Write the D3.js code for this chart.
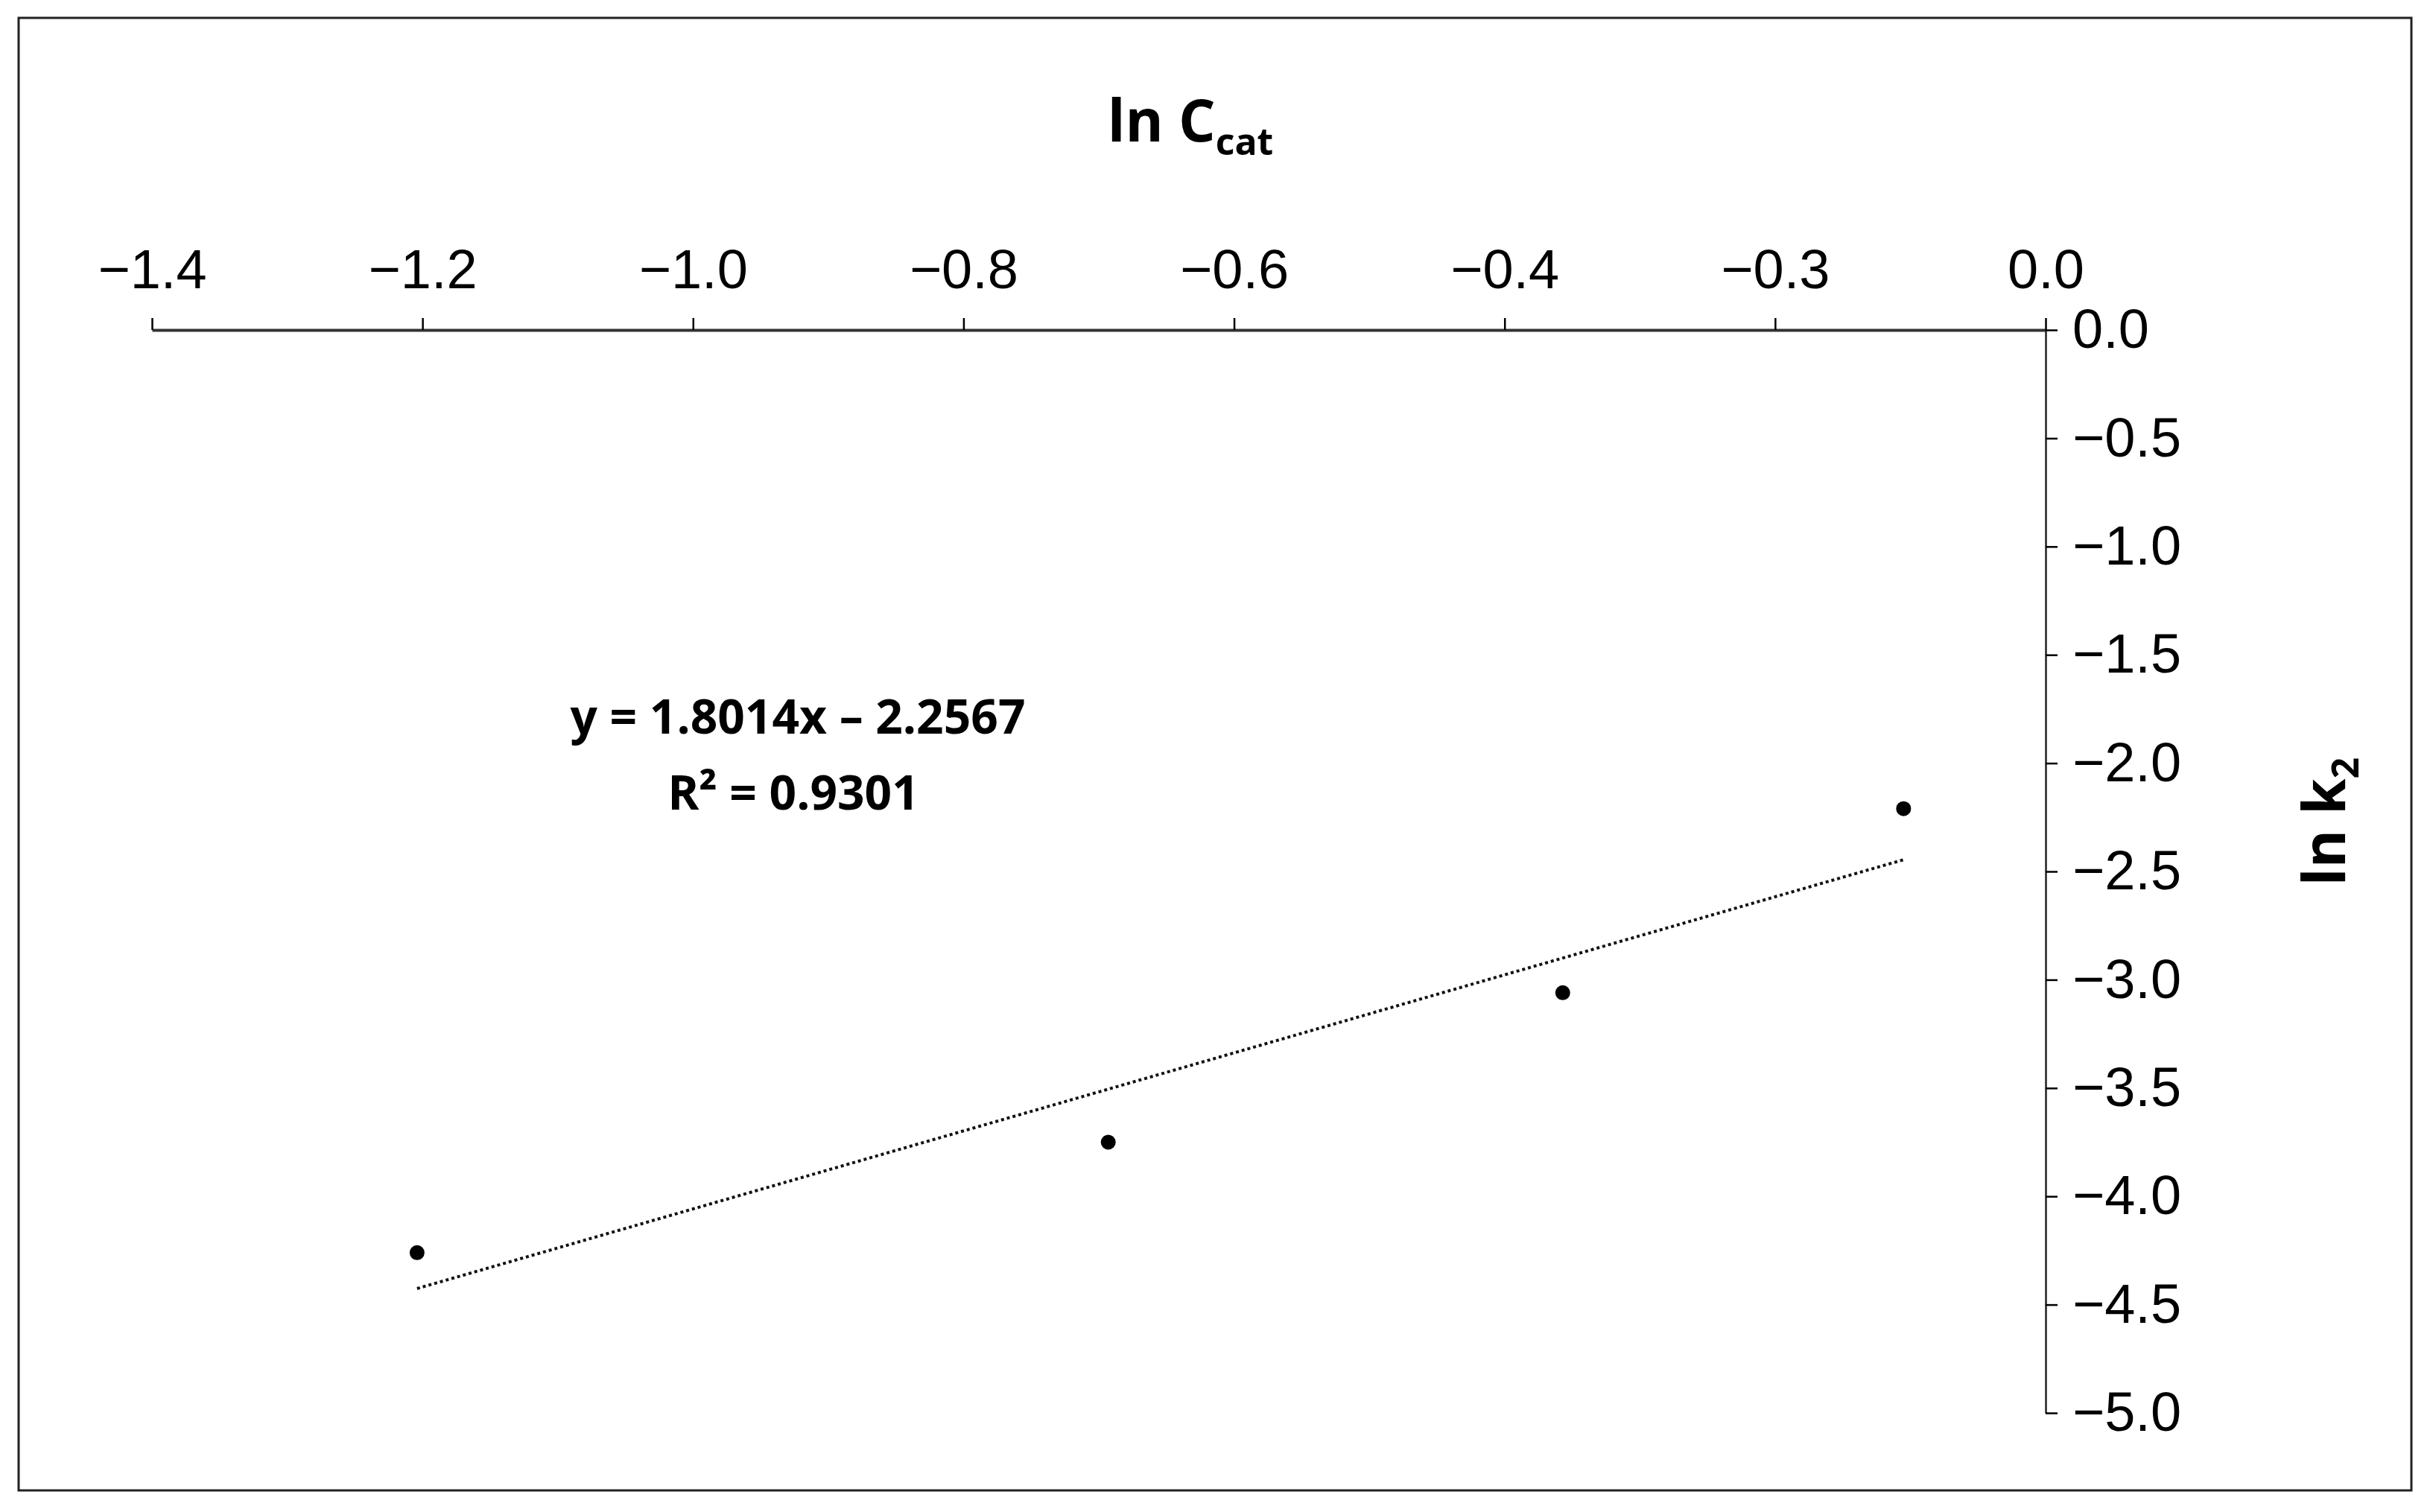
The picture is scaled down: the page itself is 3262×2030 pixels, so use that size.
<!DOCTYPE html>
<html><head><meta charset="utf-8">
<script src="https://cdn.jsdelivr.net/npm/d3@7"></script>
<style>body{margin:0;background:#fff}</style></head>
<body><svg id="c" width="3262" height="2030"></svg>
<script>
const lnC = [-1.204, -0.693, -0.357, -0.105];
const lnK2 = [-4.26, -3.75, -3.06, -2.21];
const xTickValues = [-1.4, -1.2, -1.0, -0.8, -0.6, -0.4, -0.2, 0.0];
const xTickLabels = ["\u22121.4", "\u22121.2", "\u22121.0", "\u22120.8", "\u22120.6", "\u22120.4", "\u22120.3", "0.0"];
const yTickValues = [0, -0.5, -1, -1.5, -2, -2.5, -3, -3.5, -4, -4.5, -5];
const yTickLabels = ["0.0", "\u22120.5", "\u22121.0", "\u22121.5", "\u22122.0", "\u22122.5", "\u22123.0", "\u22123.5", "\u22124.0", "\u22124.5", "\u22125.0"];
const slope = 1.8014, intercept = -2.2567;

const svg = d3.select("#c");
svg.append("rect").attr("x", 25).attr("y", 24).attr("width", 3212).attr("height", 1977)
  .attr("fill", "none").attr("stroke", "#222").attr("stroke-width", 3);

const x = d3.scaleLinear().domain([-1.4, 0]).range([204, 2746]);
const y = d3.scaleLinear().domain([0, -5]).range([443, 1897]);

const xa = svg.append("g").attr("transform", `translate(0,${y(0)})`)
  .call(d3.axisTop(x).tickValues(xTickValues).tickFormat((d, i) => xTickLabels[i]).tickSize(16).tickSizeOuter(0).tickPadding(40));
xa.select(".domain").attr("stroke-width", 4).attr("stroke", "#333");
xa.selectAll(".tick line").attr("stroke-width", 2.5);
xa.selectAll("text").attr("font-family", "Liberation Sans, Arial").attr("font-size", 74).attr("fill", "#000");

const ya = svg.append("g").attr("transform", `translate(${x(0)},0)`)
  .call(d3.axisRight(y).tickValues(yTickValues).tickFormat((d, i) => yTickLabels[i]).tickSize(16).tickSizeOuter(0).tickPadding(20));
ya.select(".domain").attr("stroke-width", 2.5).attr("stroke", "#222");
ya.selectAll(".tick line").attr("stroke-width", 2.5);
ya.selectAll("text").attr("font-family", "Liberation Sans, Arial").attr("font-size", 74).attr("fill", "#000");

const x0 = d3.min(lnC), x1 = d3.max(lnC);
svg.append("line").attr("x1", x(x0)).attr("y1", y(slope * x0 + intercept))
  .attr("x2", x(x1)).attr("y2", y(slope * x1 + intercept))
  .attr("stroke", "#111").attr("stroke-width", 4).attr("stroke-dasharray", "4,4");

svg.selectAll("circle.pt").data(lnC).enter().append("circle").attr("class", "pt")
  .attr("cx", d => x(d)).attr("cy", (d, i) => y(lnK2[i])).attr("r", 10).attr("fill", "#000");

const tf = "Open Sans, Noto Sans, sans-serif";
const t = svg.append("text").attr("x", 1598).attr("y", 190).attr("text-anchor", "middle")
  .attr("font-family", tf).attr("font-weight", "bold").attr("font-size", 78);
t.append("tspan").text("ln C");
t.append("tspan").attr("font-size", 50).attr("dy", 18).text("cat");

const yl = svg.append("text").attr("transform", "translate(3148,1103) rotate(-90)").attr("text-anchor", "middle")
  .attr("font-family", tf).attr("font-weight", "bold").attr("font-size", 78);
yl.append("tspan").text("ln k");
yl.append("tspan").attr("font-size", 50).attr("dy", 18).text("2");

svg.append("text").attr("x", 1071).attr("y", 985).attr("text-anchor", "middle")
  .attr("font-family", tf).attr("font-weight", "bold").attr("font-size", 64)
  .text("y = 1.8014x \u2013 2.2567");
svg.append("text").attr("x", 1065).attr("y", 1087).attr("text-anchor", "middle")
  .attr("font-family", tf).attr("font-weight", "bold").attr("font-size", 64)
  .text("R\u00b2 = 0.9301");
</script></body></html>
